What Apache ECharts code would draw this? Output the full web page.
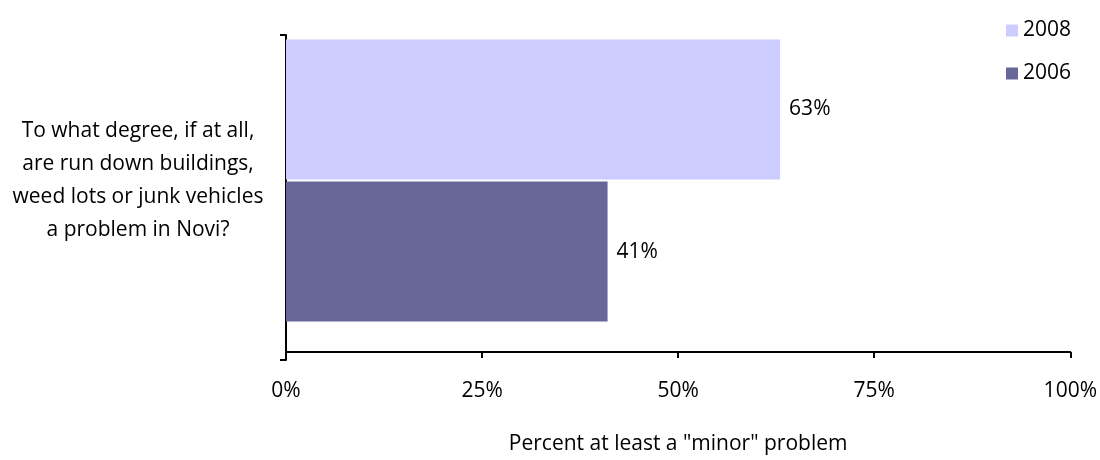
<!DOCTYPE html>
<html>
<head>
<meta charset="utf-8">
<script src="https://cdn.jsdelivr.net/npm/echarts@6/dist/echarts.min.js"></script>
<style>
  html, body { margin: 0; padding: 0; background: #fff; overflow: hidden; }
  #chart { width: 1100px; height: 460px; }
</style>
</head>
<body>
<div id="chart"></div>
<script>
// Survey question (single category) and the yearly results in percent
const categories = ['To what degree, if at all,\nare run down buildings,\nweed lots or junk vehicles\na problem in Novi?'];
const seriesNames = ['2008', '2006'];
const values2008 = [63];
const values2006 = [41];
const xTicks = [0, 25, 50, 75, 100];

const FONT = '"Open Sans", Lato, sans-serif';
const FS = 21;
const chart = echarts.init(document.getElementById('chart'), null, { width: 1100, height: 460 });

const pctLabel = {
  show: true, position: 'right', distance: 9,
  fontFamily: FONT, fontSize: FS, color: '#000',
  formatter: p => p.value + '%'
};

chart.setOption({
  animation: false,
  textStyle: { fontFamily: FONT, color: '#000' },
  legend: {
    orient: 'vertical',
    right: 24,
    top: 15,
    itemWidth: 12,
    itemHeight: 12,
    itemGap: 22,
    icon: 'rect',
    data: seriesNames,
    textStyle: { fontFamily: FONT, fontSize: FS, color: '#000' }
  },
  grid: [
    // plotting area for the bars
    { left: 286, width: 786, top: 9, height: 351, containLabel: false },
    // frame that carries the vertical axis line and its end ticks
    { left: 286, width: 786, top: 35, height: 325, containLabel: false }
  ],
  xAxis: [
    {
      gridIndex: 0,
      type: 'value',
      min: xTicks[0],
      max: xTicks[xTicks.length - 1],
      interval: 25,
      name: 'Percent at least a "minor" problem',
      nameLocation: 'middle',
      nameGap: 82,
      nameTextStyle: { fontFamily: FONT, fontSize: FS, color: '#000' },
      axisLine: { show: true, lineStyle: { color: '#000', width: 2 } },
      axisTick: { show: true, length: 6, lineStyle: { color: '#000', width: 2 } },
      splitLine: { show: false },
      axisLabel: {
        fontFamily: FONT, fontSize: FS, color: '#000', margin: 29,
        formatter: v => v + '%'
      }
    },
    {
      gridIndex: 1,
      type: 'value',
      min: 0, max: 100,
      show: false
    }
  ],
  yAxis: [
    {
      gridIndex: 0,
      type: 'category',
      data: categories,
      axisLine: { show: false },
      axisTick: { show: false },
      axisLabel: {
        fontFamily: FONT, fontSize: FS, color: '#000', margin: 148,
        align: 'center', lineHeight: 33
      }
    },
    {
      gridIndex: 1,
      type: 'value',
      min: 0, max: 1, interval: 1,
      axisLine: { show: true, lineStyle: { color: '#000', width: 2 } },
      axisTick: { show: true, length: 6, lineStyle: { color: '#000', width: 2 } },
      axisLabel: { show: false },
      splitLine: { show: false }
    }
  ],
  series: [
    {
      name: seriesNames[0],
      type: 'bar',
      xAxisIndex: 0, yAxisIndex: 0,
      data: values2008,
      barWidth: 140,
      barGap: '1.5%',
      itemStyle: { color: '#CCCCFF' },
      label: pctLabel
    },
    {
      name: seriesNames[1],
      type: 'bar',
      xAxisIndex: 0, yAxisIndex: 0,
      data: values2006,
      barWidth: 140,
      barGap: '1.5%',
      itemStyle: { color: '#666699' },
      label: pctLabel
    }
  ]
});
</script>
</body>
</html>
